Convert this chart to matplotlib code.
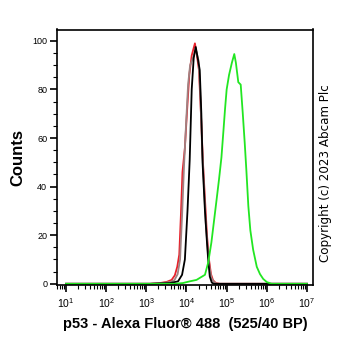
import numpy as np
import matplotlib
matplotlib.use("Agg")
import matplotlib.pyplot as plt
from matplotlib.ticker import LogLocator, MultipleLocator, NullFormatter, FixedLocator

plt.rcParams['font.family'] = ['Liberation Sans', 'DejaVu Sans']
plt.rcParams['mathtext.fontset'] = 'custom'
plt.rcParams['mathtext.rm'] = 'Liberation Sans'
plt.rcParams['mathtext.it'] = 'Liberation Sans'
plt.rcParams['mathtext.bf'] = 'Liberation Sans:bold'

# log10 fluorescence positions and counts for each histogram
red_log = [1.0, 3.09, 3.34, 3.51, 3.63, 3.71, 3.77, 3.82, 3.86, 3.90, 3.96, 4.01, 4.07, 4.13, 4.21,
           4.26, 4.31, 4.36, 4.41, 4.46, 4.51, 4.56, 4.61, 4.66, 4.73, 4.83, 7.0]
red_cnt = [0, 0, 0.3, 0.8, 1.6, 3.5, 7, 12, 28, 46, 56, 70, 86, 94, 99,
           94, 88, 70, 50, 35, 20, 10, 4, 1.5, 0.3, 0, 0]

gray_log = [1.0, 3.09, 3.40, 3.60, 3.70, 3.78, 3.84, 3.89, 3.94, 3.99, 4.04, 4.09, 4.16, 4.23,
            4.30, 4.34, 4.38, 4.43, 4.48, 4.53, 4.58, 4.62, 4.67, 4.75, 7.0]
gray_cnt = [0, 0, 0.3, 0.8, 1.5, 4, 10, 28, 49, 66, 82, 90, 93, 96.5,
            92, 80, 60, 42, 25, 14, 6, 2.5, 1, 0, 0]

black_log = [1.0, 3.09, 3.59, 3.79, 3.89, 3.96, 4.025, 4.08, 4.13, 4.18, 4.23, 4.29, 4.33,
             4.37, 4.40, 4.46, 4.51, 4.54, 4.58, 4.63, 4.68, 7.0]
black_cnt = [0, 0, 0.3, 1, 3.7, 10, 30, 51, 80, 93, 97.5, 92, 88,
             70, 50, 30, 17, 10, 3, 0.5, 0, 0]

green_log = [1.0, 3.71, 3.91, 4.08, 4.25, 4.46, 4.54, 4.62, 4.75, 4.81, 4.87, 4.92, 4.96, 5.00,
             5.06, 5.13, 5.19, 5.23, 5.29, 5.35, 5.40, 5.45, 5.49, 5.54, 5.59, 5.66, 5.75,
             5.83, 5.91, 6.00, 6.12, 7.0]
green_cnt = [0, 0, 0.3, 1, 1.6, 3.7, 8.7, 17, 34.7, 43, 52, 63, 72, 80,
             86, 91, 94.6, 91, 83, 82, 70.5, 58, 47, 32, 22, 14, 7,
             4, 2, 0.7, 0, 0]

xtick_exp = [1, 2, 3, 4, 5, 6, 7]
ytick_vals = [0, 20, 40, 60, 80, 100]

fig = plt.figure(figsize=(3.62, 3.51), dpi=100)
ax = fig.add_axes([57/362, 1 - 285/351, (313-57)/362, (285-29.5)/351])

series = [
    (red_log, red_cnt, '#e8202a'),
    (gray_log, gray_cnt, '#a08282'),
    (black_log, black_cnt, '#000000'),
    (green_log, green_cnt, '#22e622'),
]
for lg, cnt, col in series:
    ax.plot(10 ** np.array(lg), cnt, color=col, lw=1.3, solid_joinstyle='round')

ax.set_xscale('log')
ax.set_xlim(10 ** 0.776, 10 ** 7.15)
ax.set_ylim(-0.5, 104.7)

ax.xaxis.set_major_locator(FixedLocator([10.0 ** e for e in xtick_exp]))
ax.set_xticklabels([r'$\mathregular{10^{%d}}$' % e for e in xtick_exp])
ax.xaxis.set_minor_locator(LogLocator(base=10, subs=np.arange(2, 10), numticks=20))
ax.xaxis.set_minor_formatter(NullFormatter())

ax.yaxis.set_major_locator(FixedLocator(ytick_vals))
ax.yaxis.set_minor_locator(MultipleLocator(5))

ax.tick_params(axis='both', which='major', direction='out', length=5, width=1.2,
               labelsize=6.5, pad=2)
ax.tick_params(axis='both', which='minor', direction='out', length=3, width=0.8)
ax.tick_params(axis='x', which='major', pad=3, labelsize=7.5)

for s in ax.spines.values():
    s.set_linewidth(1.2)

ax.set_ylabel('Counts', fontsize=12, fontweight='bold', labelpad=5)
ax.set_xlabel('p53 - Alexa Fluor® 488  (525/40 BP)', fontsize=10.5, fontweight='bold', labelpad=5)

fig.text(326/362, 1 - 173/351, 'Copyright (c) 2023 Abcam Plc', rotation=90,
         ha='center', va='center', fontsize=8.6, family='DejaVu Sans')

fig.savefig('out.png', dpi=100)
